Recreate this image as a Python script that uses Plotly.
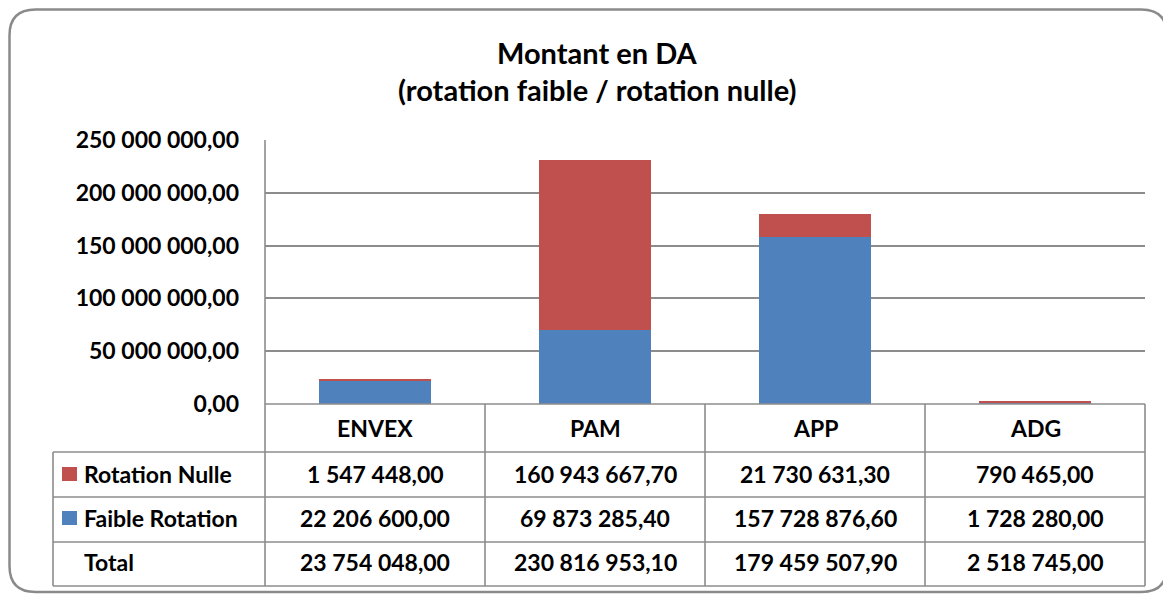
import plotly.graph_objects as go

categories = ["ENVEX", "PAM", "APP", "ADG"]
rotation_nulle = [1547448.00, 160943667.70, 21730631.30, 790465.00]
faible_rotation = [22206600.00, 69873285.40, 157728876.60, 1728280.00]
totals = [23754048.00, 230816953.10, 179459507.90, 2518745.00]
series_names = ["Rotation Nulle", "Faible Rotation", "Total"]
title_lines = ["Montant en DA", "(rotation faible / rotation nulle)"]

RED = "#C0504D"
BLUE = "#4F81BD"
GRID = "#8C8C8C"
FONT = "Lato"

# page body has an 8px margin, so the figure starts at (8, 8) of the window
OFF = 8
W, H = 1171 - OFF, 596 - OFF
L, R, T, B = 265, 1145, 140, 404   # plot area in window pixels
PW, PH = R - L, B - T


def xp(px):
    return (px - L) / PW


def yp(py):
    return (B - py) / PH


def fmt(v):
    s = f"{v:,.2f}"
    return s.replace(",", " ").replace(".", ",")


fig = go.Figure()
fig.add_trace(go.Bar(x=categories, y=faible_rotation, name=series_names[1],
                     marker=dict(color=BLUE, line=dict(width=0)), width=0.51))
fig.add_trace(go.Bar(x=categories, y=rotation_nulle, name=series_names[0],
                     marker=dict(color=RED, line=dict(width=0)), width=0.51))

shapes = []
# outer rounded border
x0, y0, x1, y1, r = xp(9.5), yp(9.5), xp(1167), yp(592), 26
rx, ry = r / PW, r / PH
path = (f"M {x0+rx},{y0} L {x1-rx},{y0} Q {x1},{y0} {x1},{y0-ry} "
        f"L {x1},{y1+ry} Q {x1},{y1} {x1-rx},{y1} L {x0+rx},{y1} "
        f"Q {x0},{y1} {x0},{y1+ry} L {x0},{y0-ry} Q {x0},{y0} {x0+rx},{y0} Z")
shapes.append(dict(type="path", xref="paper", yref="paper", path=path,
                   line=dict(color="#8A8A8A", width=2.5), layer="below"))

row_edges = [404, 452, 497, 542, 586]
col_edges = [265, 485, 705, 925, 1145]
LINE = dict(color=GRID, width=1.6)
shapes.append(dict(type="line", xref="paper", yref="paper", x0=xp(265), x1=xp(1145),
                   y0=yp(404), y1=yp(404), line=LINE))
for ry_ in row_edges[1:]:
    shapes.append(dict(type="line", xref="paper", yref="paper", x0=xp(53), x1=xp(1145),
                       y0=yp(ry_), y1=yp(ry_), line=LINE))
shapes.append(dict(type="line", xref="paper", yref="paper", x0=xp(265), x1=xp(265),
                   y0=yp(140), y1=yp(586), line=LINE))
for cx in col_edges[1:]:
    shapes.append(dict(type="line", xref="paper", yref="paper", x0=xp(cx), x1=xp(cx),
                       y0=yp(404), y1=yp(586), line=LINE))
shapes.append(dict(type="line", xref="paper", yref="paper", x0=xp(53), x1=xp(53),
                   y0=yp(452), y1=yp(586), line=LINE))

annotations = []
FS = 23


def ann(x, y, text, size=FS, xref="paper", xanchor="center"):
    annotations.append(dict(xref=xref, yref="paper", x=x, y=y, text=f"<b>{text}</b>",
                            showarrow=False, xanchor=xanchor, yanchor="middle",
                            font=dict(family=FONT, size=size, color="black")))


ann(xp(597), yp(52), title_lines[0], size=29)
ann(xp(597), yp(89), title_lines[1], size=29)
for c in categories:
    ann(c, yp(428), c, xref="x")
rows = [rotation_nulle, faible_rotation, totals]
row_centers = [474, 518, 562]
keys = [RED, BLUE, None]
for name, vals, cy, kc in zip(series_names, rows, row_centers, keys):
    ann(xp(82), yp(cy), name, xanchor="left")
    if kc:
        shapes.append(dict(type="rect", xref="paper", yref="paper",
                           x0=xp(62), x1=xp(77), y0=yp(cy - 7), y1=yp(cy + 7),
                           fillcolor=kc, line=dict(width=0)))
    for c, v in zip(categories, vals):
        ann(c, yp(cy), fmt(v), xref="x")

fig.update_layout(
    width=W, height=H, barmode="stack",
    margin=dict(l=L - OFF, r=W - (R - OFF), t=T - OFF, b=H - (B - OFF), pad=0),
    paper_bgcolor="white", plot_bgcolor="white",
    showlegend=False, separators=", ",
    shapes=shapes, annotations=annotations,
    font=dict(family=FONT, color="black"),
)
fig.update_xaxes(range=[-0.5, 3.5], showticklabels=False, showgrid=False,
                 zeroline=False, showline=False, fixedrange=True)
fig.update_yaxes(range=[0, 250e6], dtick=50e6, tickformat=",.2f",
                 showgrid=True, gridcolor=GRID, gridwidth=1.6, zeroline=False,
                 showline=False, ticklabelstandoff=25,
                 tickfont=dict(family=FONT, size=FS, color="black", weight="bold"))

fig.write_html("out.html")
